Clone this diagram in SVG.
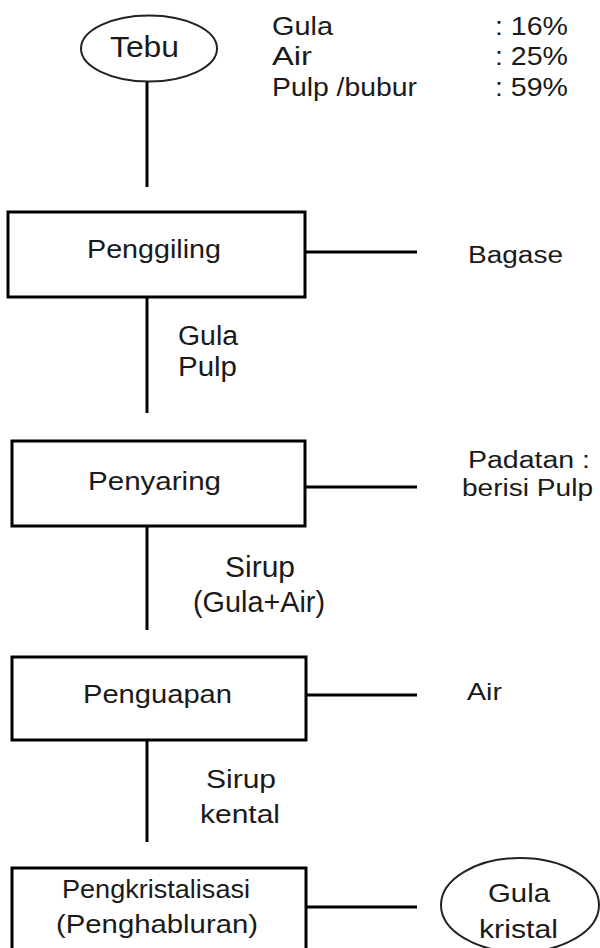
<svg xmlns="http://www.w3.org/2000/svg" width="600" height="948" viewBox="0 0 600 948">
<style>
.t{font-family:"Liberation Sans",Arial,sans-serif;fill:#1a1a1a;}
.box{fill:#fff;stroke:#000;stroke-width:3;}
.ell{fill:#fff;stroke:#222;stroke-width:2;}
.ln{stroke:#000;stroke-width:3;fill:none;}
</style>
<rect width="600" height="948" fill="#fff"/>
<g id="connectors">
<line class="ln" x1="147" y1="82" x2="147" y2="187"/>
<line class="ln" x1="147" y1="297" x2="147" y2="413"/>
<line class="ln" x1="147" y1="526" x2="147" y2="630"/>
<line class="ln" x1="147" y1="740" x2="147" y2="842"/>
<line class="ln" x1="305" y1="252" x2="417" y2="252"/>
<line class="ln" x1="305" y1="487" x2="417" y2="487"/>
<line class="ln" x1="306" y1="695" x2="417" y2="695"/>
<line class="ln" x1="306" y1="907" x2="417" y2="907"/>
</g>
<g id="tebu">
<ellipse class="ell" cx="149" cy="48.5" rx="68" ry="33"/>
<text class="t" x="110" y="57" font-size="29" textLength="69" lengthAdjust="spacingAndGlyphs">Tebu</text>
</g>
<g id="komposisi">
<text class="t" x="272" y="35" font-size="26" textLength="61" lengthAdjust="spacingAndGlyphs">Gula</text>
<text class="t" x="272" y="65" font-size="26" textLength="40" lengthAdjust="spacingAndGlyphs">Air</text>
<text class="t" x="272" y="96" font-size="26" textLength="145" lengthAdjust="spacingAndGlyphs">Pulp /bubur</text>
<text class="t" x="495" y="35" font-size="26" textLength="73" lengthAdjust="spacingAndGlyphs">: 16%</text>
<text class="t" x="495" y="65" font-size="26" textLength="73" lengthAdjust="spacingAndGlyphs">: 25%</text>
<text class="t" x="495" y="96" font-size="26" textLength="73" lengthAdjust="spacingAndGlyphs">: 59%</text>
</g>
<g id="penggiling">
<rect class="box" x="8" y="212" width="297" height="85"/>
<text class="t" x="87" y="258" font-size="26" textLength="134" lengthAdjust="spacingAndGlyphs">Penggiling</text>
</g>
<g id="bagase">
<text class="t" x="468" y="263" font-size="23" textLength="95" lengthAdjust="spacingAndGlyphs">Bagase</text>
</g>
<g id="label-gula-pulp">
<text class="t" x="178" y="345" font-size="27" textLength="60" lengthAdjust="spacingAndGlyphs">Gula</text>
<text class="t" x="178" y="376" font-size="27" textLength="59" lengthAdjust="spacingAndGlyphs">Pulp</text>
</g>
<g id="penyaring">
<rect class="box" x="12" y="441" width="293" height="85"/>
<text class="t" x="88" y="490" font-size="25" textLength="133" lengthAdjust="spacingAndGlyphs">Penyaring</text>
</g>
<g id="padatan">
<text class="t" x="468" y="468" font-size="23" textLength="122" lengthAdjust="spacingAndGlyphs">Padatan :</text>
<text class="t" x="462" y="496" font-size="23" textLength="131" lengthAdjust="spacingAndGlyphs">berisi Pulp</text>
</g>
<g id="label-sirup">
<text class="t" x="225" y="577" font-size="29" textLength="70" lengthAdjust="spacingAndGlyphs">Sirup</text>
<text class="t" x="193" y="612" font-size="29" textLength="132" lengthAdjust="spacingAndGlyphs">(Gula+Air)</text>
</g>
<g id="penguapan">
<rect class="box" x="12" y="657" width="294" height="83"/>
<text class="t" x="83" y="703" font-size="25" textLength="149" lengthAdjust="spacingAndGlyphs">Penguapan</text>
</g>
<g id="air">
<text class="t" x="467" y="700" font-size="24" textLength="35" lengthAdjust="spacingAndGlyphs">Air</text>
</g>
<g id="label-sirup-kental">
<text class="t" x="206" y="788" font-size="25" textLength="70" lengthAdjust="spacingAndGlyphs">Sirup</text>
<text class="t" x="200" y="823" font-size="25" textLength="80" lengthAdjust="spacingAndGlyphs">kental</text>
</g>
<g id="pengkristalisasi">
<rect class="box" x="12" y="868" width="294" height="100"/>
<text class="t" x="62" y="898" font-size="25" textLength="188" lengthAdjust="spacingAndGlyphs">Pengkristalisasi</text>
<text class="t" x="56" y="933" font-size="25" textLength="202" lengthAdjust="spacingAndGlyphs">(Penghabluran)</text>
</g>
<g id="gula-kristal">
<ellipse class="ell" cx="520" cy="905" rx="79" ry="47"/>
<text class="t" x="488" y="902" font-size="26" textLength="62" lengthAdjust="spacingAndGlyphs">Gula</text>
<text class="t" x="479" y="938" font-size="26" textLength="79" lengthAdjust="spacingAndGlyphs">kristal</text>
</g>
</svg>
